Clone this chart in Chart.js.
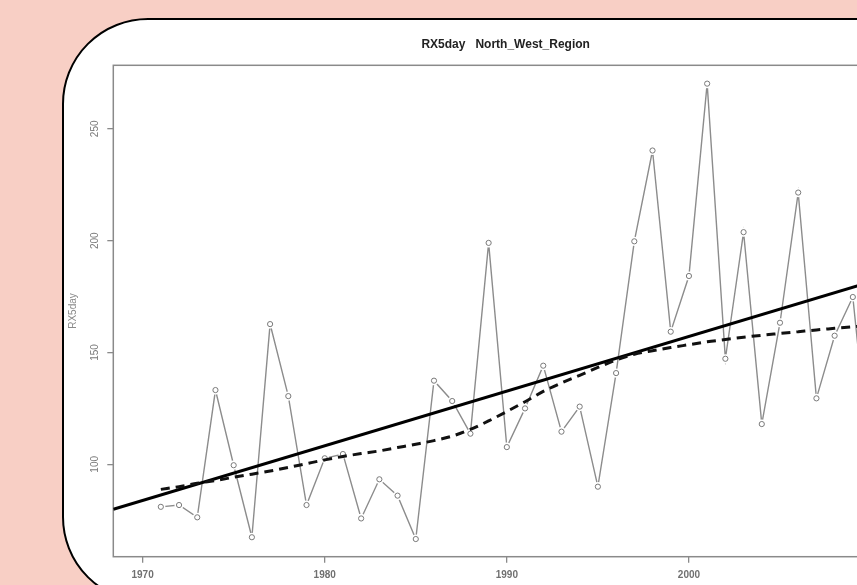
<!DOCTYPE html>
<html>
<head>
<meta charset="utf-8">
<script src="https://cdn.jsdelivr.net/npm/chart.js@4.4.1/dist/chart.umd.min.js"></script>
<style>
  html, body { margin: 0; padding: 0; width: 857px; height: 585px; overflow: hidden; background: #f8cfc5; }
  #frame { position: absolute; left: 62px; top: 18px; width: 1000px; height: 585px; box-sizing: border-box;
           border: 2px solid #000; border-radius: 86px; background: #fff; }
  #wrap { position: absolute; left: 0; top: 0; width: 960px; height: 640px; }
</style>
</head>
<body>
<div id="frame"></div>
<div id="wrap"><canvas id="c" width="960" height="640"></canvas></div>
<script>
// Annual maximum 5-day precipitation, North-West region
const years = [1971, 1972, 1973, 1974, 1975, 1976, 1977, 1978, 1979, 1980,
               1981, 1982, 1983, 1984, 1985, 1986, 1987, 1988, 1989, 1990,
               1991, 1992, 1993, 1994, 1995, 1996, 1997, 1998, 1999, 2000,
               2001, 2002, 2003, 2004, 2005, 2006, 2007, 2008, 2009, 2010];
const rx5day = [81.0, 81.8, 76.3, 133.2, 99.6, 67.4, 162.7, 130.5, 81.8, 102.7,
                104.6, 75.8, 93.3, 86.0, 66.6, 137.4, 128.3, 113.7, 199.0, 107.7,
                125.0, 144.1, 114.6, 125.8, 90.0, 140.8, 199.7, 240.3, 159.3, 184.2,
                270.2, 147.2, 203.8, 118.0, 163.3, 221.5, 129.5, 157.5, 174.8, 95.0];
// Smoothed (loess) curve, one value per year
const loessFit = [88.8, 90.0, 91.5, 92.8, 94.2, 95.6, 97.0, 98.6, 100.3, 102.0,
                  103.5, 104.8, 106.0, 107.5, 109.0, 110.6, 112.6, 115.6, 119.4, 123.6,
                  128.0, 132.6, 136.4, 139.8, 143.3, 146.6, 149.2, 150.8, 152.2, 153.5,
                  154.8, 155.8, 156.8, 157.7, 158.5, 159.3, 160.1, 160.8, 161.5, 162.0];
// Linear trend, given at both ends of the year axis
const trendYears = [1968.39, 2011.48];
const trendValues = [79.9, 185.2];
// Axis ranges and ticks
const xRange = [1968.39, 2011.48];
const yRange = [58.7, 278.4];
const xTicks = [1970, 1980, 1990, 2000, 2010];
const yTicks = [100, 150, 200, 250];

const FONT = '"Liberation Sans", Arial, sans-serif';
const pts = (xs, ys) => xs.map((x, i) => ({ x: x, y: ys[i] }));

// Box around the plotting region and rotated y tick labels
const frameAndLabels = {
  id: 'frameAndLabels',
  beforeDatasetsDraw(chart) {
    const { ctx, chartArea: a } = chart;
    ctx.save();
    ctx.strokeStyle = '#8a8a8a';
    ctx.lineWidth = 1.5;
    ctx.strokeRect(a.left, a.top, a.right - a.left, a.bottom - a.top);
    ctx.restore();
  },
  afterDraw(chart) {
    const { ctx, chartArea: a } = chart;
    const ys = chart.scales.y;
    ctx.save();
    ctx.font = '10px ' + FONT;
    ctx.fillStyle = '#7a7a7a';
    ctx.textAlign = 'center';
    ctx.textBaseline = 'middle';
    yTicks.forEach(v => {
      ctx.save();
      ctx.translate(a.left - 18, ys.getPixelForValue(v));
      ctx.rotate(-Math.PI / 2);
      ctx.fillText(String(v), 0, 0);
      ctx.restore();
    });
    ctx.restore();
  }
};

new Chart(document.getElementById('c'), {
  type: 'scatter',
  data: {
    datasets: [
      { data: pts(years, rx5day), showLine: true, borderColor: '#8c8c8c', borderWidth: 1.4,
        pointRadius: 0, order: 5 },
      { data: pts(years, rx5day), showLine: false, pointRadius: 4.6, pointBorderWidth: 0,
        pointBackgroundColor: '#ffffff', order: 4 },
      { data: pts(years, rx5day), showLine: false, pointRadius: 2.6, pointBorderWidth: 1,
        pointBorderColor: '#7a7a7a', pointBackgroundColor: '#ffffff', order: 3 },
      { data: pts(trendYears, trendValues), showLine: true, borderColor: '#000000', borderWidth: 3,
        pointRadius: 0, order: 2 },
      { data: pts(years, loessFit), showLine: true, borderColor: '#111111', borderWidth: 3,
        borderDash: [9, 6], pointRadius: 0, cubicInterpolationMode: 'monotone', order: 1 }
    ]
  },
  options: {
    responsive: false,
    animation: false,
    devicePixelRatio: 1,
    layout: { padding: { left: 60, right: 62, top: 0, bottom: 0 } },
    plugins: {
      legend: { display: false },
      tooltip: { enabled: false },
      title: {
        display: true,
        fullSize: false,
        text: 'RX5day   North_West_Region',
        color: '#222222',
        font: { family: FONT, size: 12, weight: 'bold', lineHeight: 1.2 },
        padding: { top: 37, bottom: 13.9 }
      }
    },
    scales: {
      x: {
        type: 'linear',
        min: xRange[0], max: xRange[1],
        afterBuildTicks: s => { s.ticks = xTicks.map(v => ({ value: v })); },
        afterFit: s => { s.height = 83.3; },
        border: { display: false },
        grid: { drawOnChartArea: false, drawTicks: true, tickLength: 6, color: '#8a8a8a', lineWidth: 1.3 },
        ticks: { color: '#707070', padding: 7, maxRotation: 0,
                 font: { family: FONT, size: 10, weight: 'bold' },
                 callback: v => String(v) }
      },
      y: {
        type: 'linear',
        min: yRange[0], max: yRange[1],
        afterBuildTicks: s => { s.ticks = yTicks.map(v => ({ value: v })); },
        afterFit: s => { s.width = 53.3; },
        border: { display: false },
        grid: { drawOnChartArea: false, drawTicks: true, tickLength: 6, color: '#8a8a8a', lineWidth: 1.3 },
        ticks: { display: false },
        title: { display: true, text: 'RX5day', color: '#8a8a8a',
                 font: { family: FONT, size: 10, lineHeight: 1.2 }, padding: { top: 7, bottom: 0 } }
      }
    }
  },
  plugins: [frameAndLabels]
});
</script>
</body>
</html>
